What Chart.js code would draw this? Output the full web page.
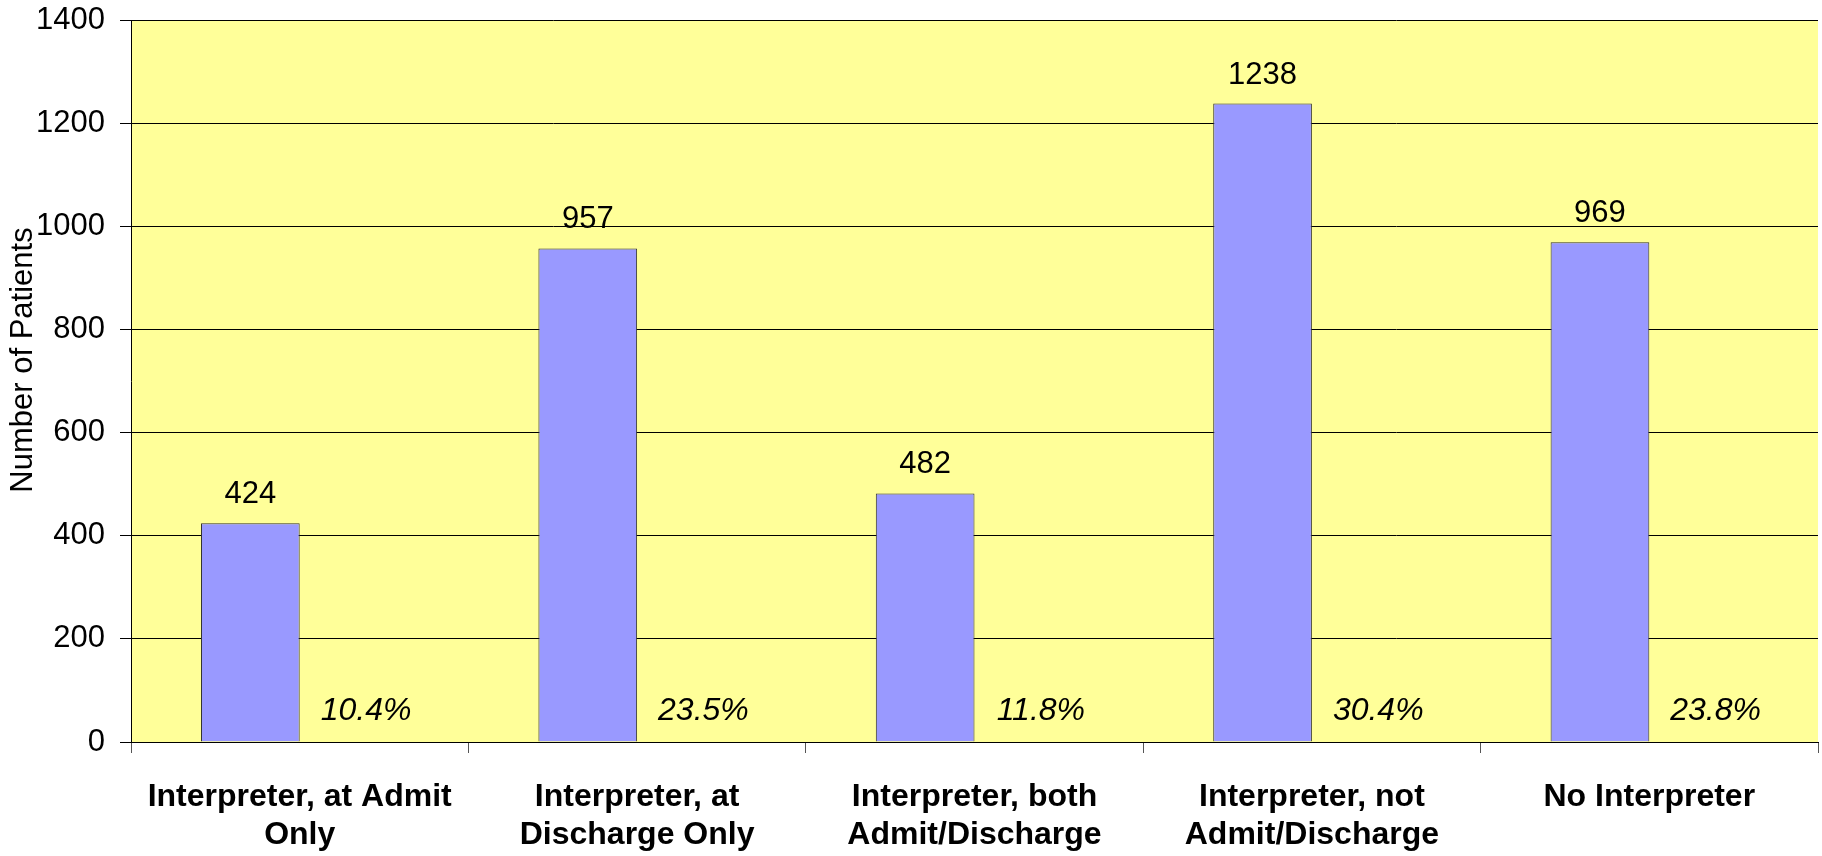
<!DOCTYPE html>
<html>
<head>
<meta charset="utf-8">
<script src="https://cdn.jsdelivr.net/npm/chart.js@4.4.1/dist/chart.umd.min.js"></script>
<style>
    html, body { margin: 0; padding: 0; background: #ffffff; }
    canvas { display: block; }
</style>
</head>
<body>
<canvas id="patients" width="1822" height="856"></canvas>
<script>
const categories = [
    ["Interpreter, at Admit", "Only"],
    ["Interpreter, at", "Discharge Only"],
    ["Interpreter, both", "Admit/Discharge"],
    ["Interpreter, not", "Admit/Discharge"],
    "No Interpreter",
];
const patients = [424, 957, 482, 1238, 969];
const percentOfTotal = [10.4, 23.5, 11.8, 30.4, 23.8];
const yTicks = [0, 200, 400, 600, 800, 1000, 1200, 1400];

const FONT = "'Liberation Sans', Arial, sans-serif";

// yellow plot background
const plotBackground = {
    id: "plotBackground",
    beforeDraw(chart) {
        const { ctx, chartArea } = chart;
        ctx.save();
        ctx.fillStyle = "#FFFF99";
        ctx.fillRect(chartArea.left, chartArea.top, chartArea.right - chartArea.left, chartArea.bottom - chartArea.top);
        ctx.restore();
    },
};

// value labels above each bar, percentages in italics next to the count bar
const barLabels = {
    id: "barLabels",
    afterDatasetsDraw(chart) {
        const ctx = chart.ctx;
        ctx.save();
        ctx.fillStyle = "#000000";
        ctx.textAlign = "center";
        ctx.textBaseline = "alphabetic";

        chart.getDatasetMeta(0).data.forEach((bar, i) => {
            ctx.font = "31px " + FONT;
            ctx.fillText(String(patients[i]), bar.x, bar.y - 20);
        });
        chart.getDatasetMeta(1).data.forEach((bar, i) => {
            ctx.font = "italic 32px " + FONT;
            ctx.fillText(percentOfTotal[i].toFixed(1) + "%", bar.x + 17, bar.y - 22);
        });
        ctx.restore();
    },
};

// rotated y axis title
const yTitle = {
    id: "yTitle",
    afterDraw(chart) {
        const ctx = chart.ctx;
        ctx.save();
        ctx.translate(23, 360);
        ctx.rotate(-Math.PI / 2);
        ctx.font = "31px " + FONT;
        ctx.fillStyle = "#000000";
        ctx.textAlign = "center";
        ctx.textBaseline = "middle";
        ctx.fillText("Number of Patients", 0, 0);
        ctx.restore();
    },
};

new Chart(document.getElementById("patients"), {
    type: "bar",
    data: {
        labels: categories,
        datasets: [
            {
                label: "Patients",
                data: patients,
                backgroundColor: "#9999FF",
                borderColor: "#333333",
                borderWidth: 1,
            },
            {
                label: "Percent",
                data: percentOfTotal.map((p) => p / 100),
                backgroundColor: "rgba(0, 0, 0, 0)",
                borderWidth: 0,
            },
        ],
    },
    options: {
        responsive: false,
        animation: false,
        categoryPercentage: 0.585,
        barPercentage: 1,
        layout: {
            padding: { top: 20, right: 4, left: 0, bottom: 0 },
        },
        plugins: {
            legend: { display: false },
            tooltip: { enabled: false },
        },
        scales: {
            x: {
                afterFit(scale) {
                    scale.height = 114;
                    scale.paddingLeft = 0;
                    scale.paddingRight = 0;
                },
                grid: {
                    offset: true,
                    drawOnChartArea: false,
                    tickLength: 11,
                    tickColor: "#555555",
                },
                border: { color: "#000000", width: 1 },
                ticks: {
                    color: "#000000",
                    padding: 25,
                    maxRotation: 0,
                    autoSkip: false,
                    font: { family: FONT, size: 32, weight: "bold", lineHeight: 1.19 },
                },
            },
            y: {
                min: yTicks[0],
                max: yTicks[yTicks.length - 1],
                afterFit(scale) {
                    scale.width = 131;
                    scale.paddingTop = 0;
                    scale.paddingBottom = 0;
                },
                afterBuildTicks(scale) {
                    scale.ticks = yTicks.map((v) => ({ value: v }));
                },
                grid: {
                    color: "#000000",
                    lineWidth: 1,
                    tickLength: 11,
                },
                border: { color: "#000000", width: 1 },
                ticks: {
                    color: "#000000",
                    padding: 15,
                    font: { family: FONT, size: 31 },
                    callback: (value) => String(value),
                },
            },
        },
    },
    plugins: [plotBackground, barLabels, yTitle],
});
</script>
</body>
</html>
